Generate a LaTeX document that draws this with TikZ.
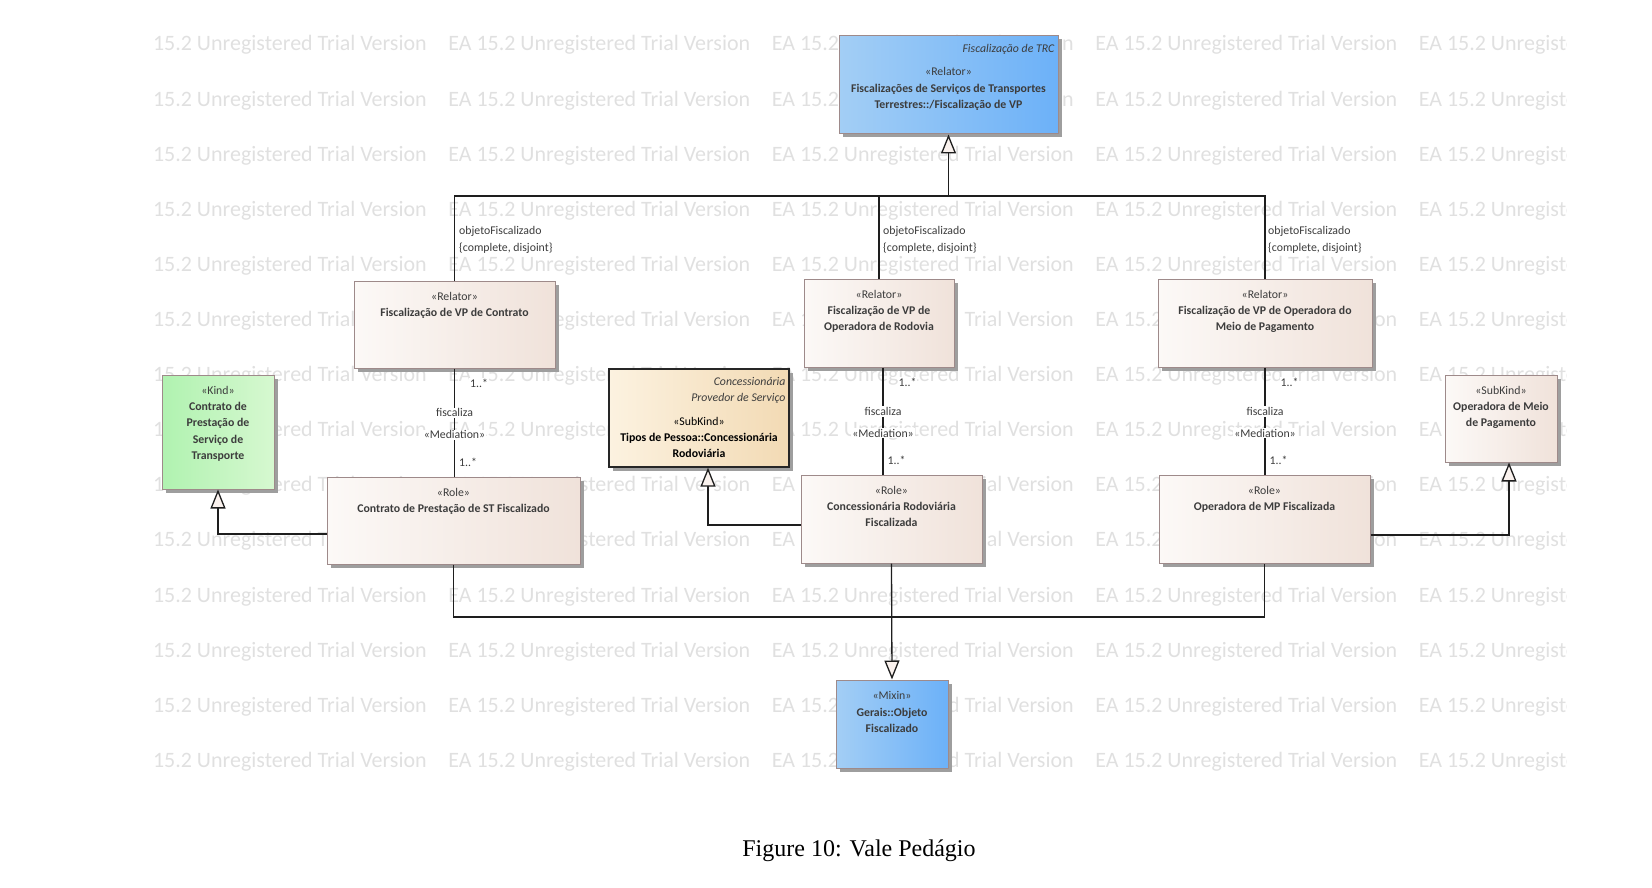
\documentclass[tikz,border=0pt]{standalone}
\usepackage{fontspec}
\usepackage{tikz}
\usetikzlibrary{arrows.meta,shadows}
\newfontfamily\umlfont{Carlito}
\newfontfamily\capfont{Liberation Serif}
\definecolor{relL}{RGB}{252,249,247}
\definecolor{relR}{RGB}{240,226,218}
\definecolor{blueL}{RGB}{163,206,245}
\definecolor{blueR}{RGB}{108,177,248}
\definecolor{greenL}{RGB}{176,242,176}
\definecolor{greenR}{RGB}{214,248,208}
\definecolor{tanL}{RGB}{252,242,224}
\definecolor{tanR}{RGB}{242,218,180}
\definecolor{boxedge}{RGB}{158,138,138}
\definecolor{umltext}{RGB}{60,60,60}
\definecolor{linecol}{RGB}{30,30,30}
\definecolor{genfill}{RGB}{250,242,238}
\tikzset{
	umlbox/.style={draw=boxedge, line width=1pt, inner sep=0pt,
		general shadow={fill=black!38, shadow xshift=3.5pt, shadow yshift=-3.5pt}},
	relbox/.style={umlbox, left color=relL, right color=relR},
	bluebox/.style={umlbox, left color=blueL, right color=blueR},
	kindbox/.style={umlbox, left color=greenL, right color=greenR},
	subbox/.style={umlbox, draw=black!85, line width=1.3pt, left color=tanL, right color=tanR},
	boxtext/.style={anchor=north, align=center, inner sep=0pt, text=umltext,
		font=\umlfont\fontsize{11.8}{16.3}\selectfont},
	tagtext/.style={anchor=north east, align=right, inner sep=0pt, text=umltext,
		font=\umlfont\itshape\fontsize{11.8}{16.3}\selectfont},
	assoc/.style={draw=linecol, line width=1.3pt},
	gen/.style={assoc, -{Triangle[length=19pt, width=15pt, fill=genfill]}},
	medlabel/.style={fill=white, inner sep=1pt, text=umltext,
		font=\umlfont\fontsize{11.8}{16.3}\selectfont},
	mult/.style={medlabel, anchor=west},
	gsetlabel/.style={medlabel, anchor=west, align=left},
	wmark/.style={anchor=base west, inner sep=0pt, text=black!12,
		font=\umlfont\fontsize{22}{26}\selectfont},
}
\begin{document}
\begin{tikzpicture}[x=1pt, y=-1pt]
	\useasboundingbox (0,0) rectangle (1652,888);
	\begin{scope}
		\clip (150,0) rectangle (1566,888);
		\foreach \r in {0,...,13}
			\foreach \c in {0,...,4}
				\node[wmark] (wm\r\c) at ({124.6+323.5*\c},{51+55.1*\r}) {EA 15.2 Unregistered Trial Version};
	\end{scope}

	\node[bluebox, minimum width=219pt, minimum height=98pt] (fvp) at (948.5,85) {};
	\node[tagtext] (fvptag) at ([xshift=-4pt, yshift=-8.5pt]fvp.north east) {Fiscalização de TRC};
	\node[boxtext] (fvpt) at ([yshift=-32pt]fvp.north) {«Relator»\\ \textbf{Fiscalizações de Serviços de Transportes}\\ \textbf{Terrestres::/Fiscalização de VP}};

	\node[relbox, minimum width=201pt, minimum height=87pt] (rel1) at (454.5,324.5) {};
	\node[boxtext] (rel1t) at ([yshift=-11.5pt]rel1.north) {«Relator»\\ \textbf{Fiscalização de VP de Contrato}};
	\node[relbox, minimum width=150pt, minimum height=88pt] (rel2) at (879,323) {};
	\node[boxtext] (rel2t) at ([yshift=-11.5pt]rel2.north) {«Relator»\\ \textbf{Fiscalização de VP de}\\ \textbf{Operadora de Rodovia}};
	\node[relbox, minimum width=214pt, minimum height=88pt] (rel3) at (1265,323) {};
	\node[boxtext] (rel3t) at ([yshift=-11.5pt]rel3.north) {«Relator»\\ \textbf{Fiscalização de VP de Operadora do}\\ \textbf{Meio de Pagamento}};

	\node[relbox, minimum width=253pt, minimum height=87pt] (role1) at (453.5,520.5) {};
	\node[boxtext] (role1t) at ([yshift=-11.5pt]role1.north) {«Role»\\ \textbf{Contrato de Prestação de ST Fiscalizado}};
	\node[relbox, minimum width=181pt, minimum height=88pt] (role2) at (891.5,519) {};
	\node[boxtext] (role2t) at ([yshift=-11.5pt]role2.north) {«Role»\\ \textbf{Concessionária Rodoviária}\\ \textbf{Fiscalizada}};
	\node[relbox, minimum width=211pt, minimum height=88pt] (role3) at (1264.5,519) {};
	\node[boxtext] (role3t) at ([yshift=-11.5pt]role3.north) {«Role»\\ \textbf{Operadora de MP Fiscalizada}};

	\node[kindbox, minimum width=112pt, minimum height=114pt] (kind) at (218,432) {};
	\node[boxtext] (kindt) at ([yshift=-11.5pt]kind.north) {«Kind»\\ \textbf{Contrato de}\\ \textbf{Prestação de}\\ \textbf{Serviço de}\\ \textbf{Transporte}};
	\node[subbox, minimum width=180pt, minimum height=98pt] (conc) at (699,418) {};
	\node[tagtext] (conctag) at ([xshift=-4pt, yshift=-8.5pt]conc.north east) {Concessionária\\ Provedor de Serviço};
	\node[boxtext, text=black] (conct) at ([yshift=-48.5pt]conc.north) {«SubKind»\\ \textbf{Tipos de Pessoa::Concessionária}\\ \textbf{Rodoviária}};
	\node[relbox, minimum width=112pt, minimum height=87pt] (opmp) at (1501,418.5) {};
	\node[boxtext] (opmpt) at ([yshift=-11.5pt]opmp.north) {«SubKind»\\ \textbf{Operadora de Meio}\\ \textbf{de Pagamento}};

	\node[bluebox, minimum width=112pt, minimum height=88pt] (mixin) at (892,724) {};
	\node[boxtext] (mixint) at ([yshift=-12pt]mixin.north) {«Mixin»\\ \textbf{Gerais::Objeto}\\ \textbf{Fiscalizado}};

	% generalization set objetoFiscalizado
	\coordinate (gbus) at (948.5,196);
	\draw[assoc] (rel1.north) |- (gbus) -| (rel3.north);
	\draw[assoc] (rel2.north) -- (rel2.north |- gbus);
	\draw[gen] (gbus) -- (fvp.south);
	\node[gsetlabel] (gs1) at (458,240) {objetoFiscalizado\\ \{complete, disjoint\}};
	\node[gsetlabel] (gs2) at (882,240) {objetoFiscalizado\\ \{complete, disjoint\}};
	\node[gsetlabel] (gs3) at (1267,240) {objetoFiscalizado\\ \{complete, disjoint\}};

	\draw[assoc] (rel1.south) -- node[pos=.14, mult, xshift=14pt] (m1a) {1..*}
		node[pos=.41, medlabel] (m1b) {fiscaliza}
		node[pos=.615, medlabel] (m1c) {«Mediation»}
		node[pos=.87, mult, xshift=3pt] (m1d) {1..*} (rel1.south |- role1.north);
	\draw[assoc] ([xshift=4pt]rel2.south) -- node[pos=.14, mult, xshift=14pt] (m2a) {1..*}
		node[pos=.41, medlabel] (m2b) {fiscaliza}
		node[pos=.615, medlabel] (m2c) {«Mediation»}
		node[pos=.87, mult, xshift=3pt] (m2d) {1..*} ([xshift=4pt]rel2.south |- role2.north);
	\draw[assoc] (rel3.south) -- node[pos=.14, mult, xshift=14pt] (m3a) {1..*}
		node[pos=.41, medlabel] (m3b) {fiscaliza}
		node[pos=.615, medlabel] (m3c) {«Mediation»}
		node[pos=.87, mult, xshift=3pt] (m3d) {1..*} (rel3.south |- role3.north);

	\draw[gen] ([yshift=-13.5pt]role1.west) -| (kind.south);
	\draw[gen] ([yshift=-6pt]role2.west) -| ([xshift=9pt]conc.south);
	\draw[gen] ([yshift=-16pt]role3.east) -| ([xshift=8pt]opmp.south);

	\coordinate (mbus) at (891.5,617);
	\draw[assoc] (role1.south) |- (mbus) -| (role3.south);
	\draw[gen] (role2.south) -- (mixin.north);

	\node[font=\capfont\fontsize{24}{28}\selectfont, inner sep=0pt] (caption) at (859,851) {Figure 10: Vale Pedágio};
\end{tikzpicture}
\end{document}
